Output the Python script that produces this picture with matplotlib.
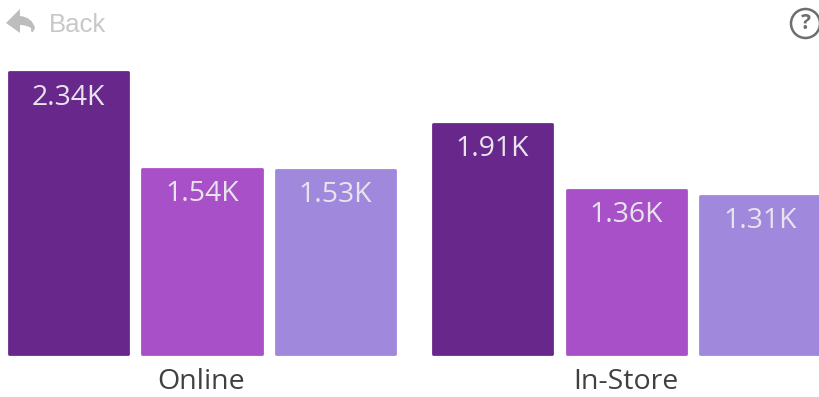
import matplotlib
matplotlib.use("Agg")
import matplotlib.pyplot as plt
from matplotlib.patches import Circle, PathPatch
from matplotlib.path import Path
from matplotlib.transforms import Affine2D

categories = ["Online", "In-Store"]
series_a = [2340, 1910]
series_b = [1540, 1360]
series_c = [1530, 1310]
value_labels = [["2.34K", "1.91K"], ["1.54K", "1.36K"], ["1.53K", "1.31K"]]
colors = ["#68278A", "#A850C8", "#A088DC"]

W, H = 820, 397
fig = plt.figure(figsize=(W / 100, H / 100), dpi=100)
fig.patch.set_facecolor("white")

BASE, TOP, L = 353.6, 72.4, 8.9
ax = fig.add_axes([L / W, 1 - BASE / H, (W - L) / W, (BASE - TOP) / H])
ax.axis("off")
ax.set_ylim(0, 2340)

step = 133.6
group_step = 424.3
width = 119.2
ax.set_xlim(-width / 2, W - L - width / 2)

for s, vals in enumerate([series_a, series_b, series_c]):
    xs = [g * group_step + s * step for g in range(len(categories))]
    ax.bar(xs, vals, width=width, color=colors[s], edgecolor=colors[s], linewidth=2,
           joinstyle="round", clip_on=False)
    for x, v, lab in zip(xs, vals, value_labels[s]):
        ax.annotate(lab, (x, v), xytext=(-0.2, -8), textcoords="offset points",
                    ha="center", va="top", color="#E8E4EE", fontsize=20.4,
                    family="Open Sans")

for g, name in enumerate(categories):
    ax.annotate(name, (g * group_step + step, 0), xytext=(-0.5, -10.4), textcoords="offset points",
                ha="center", va="top", color="#404040", fontsize=20.5, family="Open Sans")

# UI chrome in pixel coordinates (origin top-left)
px = Affine2D().scale(1, -1).translate(0, H)
verts = [(6, 23), (20, 9), (20, 16), (32, 17), (35, 28), (31, 37), (31, 28), (27, 25),
         (20, 25), (20, 33), (6, 23)]
codes = [Path.MOVETO] + [Path.LINETO, Path.LINETO] + [Path.CURVE3, Path.CURVE3, Path.CURVE3, Path.CURVE3,
         Path.CURVE3, Path.LINETO] + [Path.LINETO, Path.CLOSEPOLY]
fig.add_artist(PathPatch(Path(verts, codes), transform=px, facecolor="#BDBDBD", edgecolor="none"))
fig.text(49 / W, 1 - 25 / H, "Back", color="#C8C8C8", fontsize=18.5, family="Liberation Sans",
         ha="left", va="center")
fig.add_artist(Circle((805.5, 23.5), 14.5, transform=px, facecolor="none", edgecolor="#6E6E6E", linewidth=1.8))
fig.text(805.5 / W, 1 - 23.5 / H, "?", color="#6E6E6E", fontsize=15, fontweight="bold",
         family="Open Sans", ha="center", va="center")

fig.savefig("out.png", dpi=100)
